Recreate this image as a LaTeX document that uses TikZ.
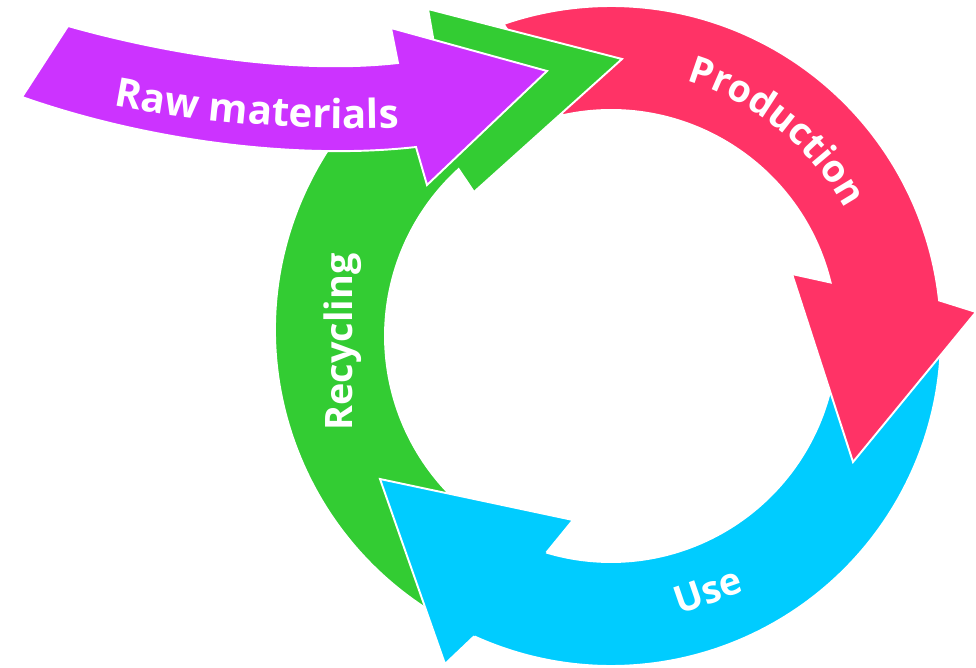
\documentclass[tikz,border=0pt]{standalone}
\usepackage{fontspec}
\setmainfont{Open Sans}
\usetikzlibrary{calc,decorations.text}
\definecolor{cpink}{RGB}{255,51,102}
\definecolor{cgreen}{RGB}{51,204,51}
\definecolor{ccyan}{RGB}{0,204,255}
\definecolor{cpurple}{RGB}{204,51,255}
\newcommand{\lblfont}{\fontsize{21.5}{22}\selectfont\bfseries\color{white}}
\newcommand{\rawfont}{\fontsize{22.8}{23}\selectfont\bfseries\color{white}}
\begin{document}
\begin{tikzpicture}[x=0.02cm,y=-0.02cm,
  band/.style={draw=white,line width=1.1pt,line join=miter},
  label/.style={font=\lblfont,text=white,inner sep=0pt},
  curvelabel/.style={decorate,decoration={text along path,text align=center,text={|\lblfont|#1}}},
  rawlabel/.style={decorate,decoration={text along path,text align=center,text={|\rawfont|#1}}}]
\useasboundingbox (0,0) rectangle (976,667);
\coordinate (C) at (611,336);
\coordinate (G) at (607,330);
% Use (cyan)
\fill[ccyan,band] ($(C)+(2:330)$) arc[start angle=2,end angle=114.5,radius=330]
  -- (445,664) -- (380,479) -- (573,520)
  -- ($(C)+(106.6:226)$) arc[start angle=106.6,end angle=5,radius=226] -- cycle;
% Production (pink)
\fill[cpink,band] ($(C)+(-109:330)$) arc[start angle=-109,end angle=-6.2,radius=330]
  -- (976,312) -- (853,462) -- (792,274)
  -- ($(C)+(-13.7:226)$) arc[start angle=-13.7,end angle=-102.25,radius=226] -- cycle;
% Recycling (green)
\fill[cgreen,band] ($(G)+(121:332)$) arc[start angle=121,end angle=238.7,radius=332]
  -- (428,9) -- (622,59) -- (474,192)
  -- ($(C)+(227.6:226)$) arc[start angle=227.6,end angle=125,radius=226] -- cycle;
% cyan head on top of green tail
\coordinate (cyo) at ($(C)+(114.5:330)$);
\coordinate (cyi) at ($(C)+(106.6:226)$);
\fill[ccyan] (cyo) -- (445,664) -- (380,479) -- (573,520) -- (cyi) -- cycle;
\draw[band] (cyo) -- (445,664) -- (380,479) -- (573,520) -- (cyi);
% Raw materials (purple)
\fill[cpurple,band] (68,26) .. controls (160,52) and (290,75) .. (398,63)
  -- (391,28) -- (547,71) -- (427,185) -- (416,147)
  .. controls (300,160) and (150,142) .. (22,97) -- cycle;
% labels
\path[rawlabel={Raw materials}] (47,91) .. controls (187,125) and (327,136) .. (467,123);
\path[curvelabel={Production}] ($(C)+(-81:266)$) arc[start angle=-81,end angle=-21,radius=266];
\node[label,rotate=19,anchor=base] (use) at (712,603) {Use};
\node[label,rotate=90,anchor=base] (rec) at (352,342) {Recycling};
\end{tikzpicture}
\end{document}
